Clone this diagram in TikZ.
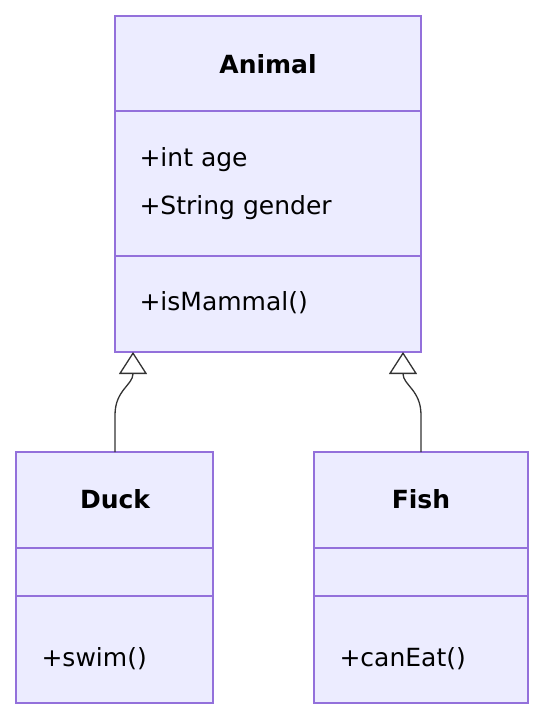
\documentclass[tikz,border=0pt]{standalone}
\usepackage{fontspec}
\setmainfont{DejaVu Sans}
\usetikzlibrary{arrows.meta,positioning}
\definecolor{boxfill}{HTML}{ECECFF}
\definecolor{boxline}{HTML}{9370DB}
\definecolor{linkc}{HTML}{333333}
\begin{document}
\begin{tikzpicture}[x=1pt,y=-1pt,
	ClassBox/.style={draw=boxline, fill=boxfill, line width=1.3pt, anchor=north west, minimum width=#1, inner sep=0pt, outer sep=0pt},
	ClassTxt/.style={anchor=west, font=\fontsize{25}{30}\selectfont},
	ClassHead/.style={anchor=center, font=\fontsize{25}{30}\selectfont\bfseries},
	Inherit/.style={draw=linkc, line width=1.3pt, -{Triangle[open,width=28pt,length=22pt,fill=white]}}]
	\useasboundingbox (0,0) rectangle (544,728);
	% Animal
	\node (animal) [ClassBox=306pt, minimum height=336pt] at (115,16) {};
	\draw[boxline, line width=1.3pt] (115,111) -- (421,111) (115,256) -- (421,256);
	\node (animalT) [ClassHead] at (268,64) {Animal};
	\node (age) [ClassTxt] at (136,160) {+int age};
	\node (gender) [ClassTxt] at (136,208) {+String gender};
	\node (mammal) [ClassTxt] at (136,303) {+isMammal()};
	% Duck
	\node (duck) [ClassBox=197pt, minimum height=251pt] at (16,452) {};
	\draw[boxline, line width=1.3pt] (16,548) -- (213,548) (16,596) -- (213,596);
	\node (duckT) [ClassHead] at (115,499) {Duck};
	\node (swim) [ClassTxt] at (38,659) {+swim()};
	% Fish
	\node (fish) [ClassBox=214pt, minimum height=251pt] at (314,452) {};
	\draw[boxline, line width=1.3pt] (314,548) -- (528,548) (314,596) -- (528,596);
	\node (fishT) [ClassHead] at (421,499) {Fish};
	\node (eat) [ClassTxt] at (336,659) {+canEat()};
	% links
	\coordinate (duckTip) at (133,352);
	\coordinate (fishTip) at (403,352);
	\draw[Inherit] (duck.north -| duckT) -- (115,415) .. controls (115,390) and (133,385) .. (duckTip);
	\draw[Inherit] (fish.north -| fishT) -- (421,415) .. controls (421,390) and (403,385) .. (fishTip);
\end{tikzpicture}
\end{document}
